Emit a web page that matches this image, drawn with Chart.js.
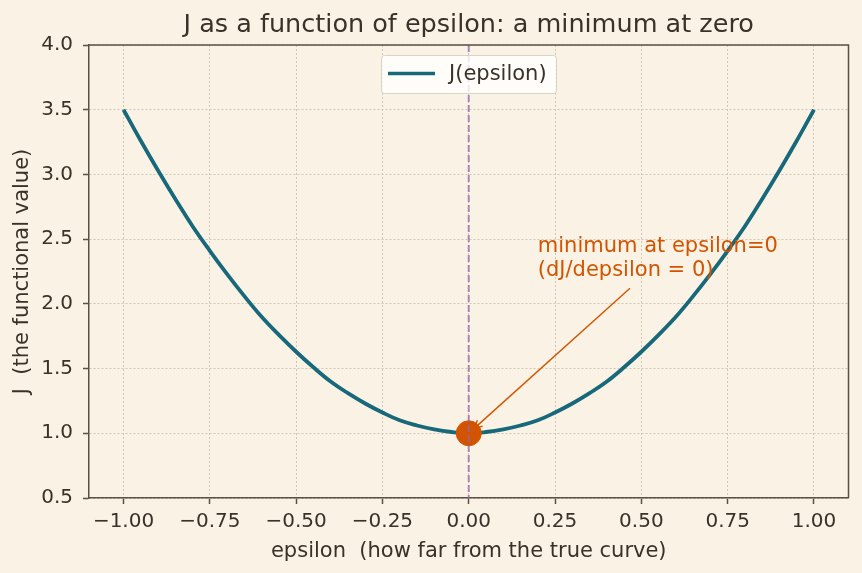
<!DOCTYPE html>
<html>
<head>
<meta charset="utf-8">
<script src="https://cdn.jsdelivr.net/npm/chart.js@4/dist/chart.umd.min.js"></script>
<style>
  html, body { margin: 0; padding: 0; background: #faf2e4; }
  #wrap { width: 862px; height: 573px; }
</style>
</head>
<body>
<div id="wrap"><canvas id="jChart" width="862" height="573"></canvas></div>
<script>
// values
var epsilon = [-1.00, -0.95, -0.90, -0.85, -0.80, -0.75, -0.70, -0.65, -0.60, -0.55,
               -0.50, -0.45, -0.40, -0.35, -0.30, -0.25, -0.20, -0.15, -0.10, -0.05,
               0.00, 0.05, 0.10, 0.15, 0.20, 0.25, 0.30, 0.35, 0.40, 0.45,
               0.50, 0.55, 0.60, 0.65, 0.70, 0.75, 0.80, 0.85, 0.90, 0.95, 1.00];
var jValues = [3.50, 3.26, 3.03, 2.81, 2.60, 2.41, 2.23, 2.06, 1.90, 1.76,
               1.63, 1.51, 1.40, 1.31, 1.23, 1.16, 1.10, 1.06, 1.03, 1.01,
               1.00, 1.01, 1.03, 1.06, 1.10, 1.16, 1.23, 1.31, 1.40, 1.51,
               1.63, 1.76, 1.90, 2.06, 2.23, 2.41, 2.60, 2.81, 3.03, 3.26, 3.50];
var xTicks = [-1.0, -0.75, -0.5, -0.25, 0.0, 0.25, 0.5, 0.75, 1.0];
var yTicks = [0.5, 1.0, 1.5, 2.0, 2.5, 3.0, 3.5, 4.0];
var minPoint = { x: 0.0, y: 1.0 };
var noteText = ["minimum at epsilon=0", "(dJ/depsilon = 0)"];
var notePos = { x: 0.2, y: 2.2 };
var arrowStart = { x: 0.467, y: 2.12 };

var FONT = "'DejaVu Sans', sans-serif";
var INK = '#3a3129';
var TEAL = '#17687a';
var ORANGE = '#d35400';

function minus(v, d) {
  return v.toFixed(d).replace('-', '\u2212');
}

var extras = {
  id: 'extras',
  afterDatasetsDraw: function(chart) {
    var ctx = chart.ctx, a = chart.chartArea, xs = chart.scales.x;
    var x0 = xs.getPixelForValue(0);
    ctx.save();
    ctx.strokeStyle = 'rgba(145,100,175,0.75)';
    ctx.lineWidth = 2;
    ctx.setLineDash([7, 3]);
    ctx.beginPath();
    ctx.moveTo(x0, a.top);
    ctx.lineTo(x0, a.bottom);
    ctx.stroke();
    ctx.restore();
  },
  afterDraw: function(chart) {
    var ctx = chart.ctx, a = chart.chartArea, xs = chart.scales.x, ys = chart.scales.y;
    ctx.save();
    // top and right spines
    ctx.strokeStyle = '#5b5044';
    ctx.lineWidth = 1.5;
    ctx.beginPath();
    ctx.moveTo(a.left, a.top);
    ctx.lineTo(a.right, a.top);
    ctx.lineTo(a.right, a.bottom);
    ctx.stroke();

    // title
    ctx.fillStyle = INK;
    ctx.font = '25.5px ' + FONT;
    ctx.textAlign = 'center';
    ctx.textBaseline = 'middle';
    ctx.fillText('J as a function of epsilon: a minimum at zero', (a.left + a.right) / 2, 25);

    // annotation
    var tx = xs.getPixelForValue(notePos.x), ty = ys.getPixelForValue(notePos.y);
    ctx.fillStyle = ORANGE;
    ctx.font = '21px ' + FONT;
    ctx.textAlign = 'left';
    ctx.textBaseline = 'alphabetic';
    ctx.fillText(noteText[0], tx, ty - 26);
    ctx.fillText(noteText[1], tx, ty - 2);
    var sx = xs.getPixelForValue(arrowStart.x), sy = ys.getPixelForValue(arrowStart.y);
    var ex = xs.getPixelForValue(minPoint.x), ey = ys.getPixelForValue(minPoint.y);
    var ang = Math.atan2(ey - sy, ex - sx);
    ex -= Math.cos(ang) * 7; ey -= Math.sin(ang) * 7;
    ctx.strokeStyle = ORANGE;
    ctx.lineWidth = 1.4;
    ctx.beginPath();
    ctx.moveTo(sx, sy);
    ctx.lineTo(ex, ey);
    ctx.stroke();
    ctx.beginPath();
    ctx.moveTo(ex - Math.cos(ang - 0.45) * 9, ey - Math.sin(ang - 0.45) * 9);
    ctx.lineTo(ex, ey);
    ctx.lineTo(ex - Math.cos(ang + 0.45) * 9, ey - Math.sin(ang + 0.45) * 9);
    ctx.stroke();

    // legend box
    var lx = 381, ly = 55, lw = 175, lh = 38;
    ctx.fillStyle = 'rgba(255,255,255,0.8)';
    ctx.strokeStyle = '#d9d2c6';
    ctx.lineWidth = 1;
    ctx.beginPath();
    ctx.roundRect(lx + 0.5, ly + 0.5, lw, lh, 3);
    ctx.fill();
    ctx.stroke();
    ctx.strokeStyle = TEAL;
    ctx.lineWidth = 3.5;
    ctx.beginPath();
    ctx.moveTo(388, ly + 18.5);
    ctx.lineTo(435, ly + 18.5);
    ctx.stroke();
    ctx.fillStyle = INK;
    ctx.font = '21px ' + FONT;
    ctx.textBaseline = 'middle';
    ctx.fillText('J(epsilon)', 449, ly + 19.5);
    ctx.restore();
  }
};

new Chart(document.getElementById('jChart'), {
  type: 'scatter',
  data: {
    datasets: [
      {
        label: 'minimum',
        data: [minPoint],
        backgroundColor: ORANGE,
        borderColor: ORANGE,
        pointRadius: 12.5,
        pointHoverRadius: 12.5,
        order: 0
      },
      {
        label: 'J(epsilon)',
        type: 'line',
        data: epsilon.map(function(e, i) { return { x: e, y: jValues[i] }; }),
        borderColor: TEAL,
        borderWidth: 3.8,
        pointRadius: 0,
        fill: false,
        tension: 0.4,
        order: 1
      }
    ]
  },
  plugins: [extras],
  options: {
    responsive: false,
    animation: false,
    events: [],
    layout: { padding: { left: 0, right: 13, top: 45, bottom: 0 } },
    plugins: {
      legend: { display: false },
      title: { display: false },
      tooltip: { enabled: false }
    },
    scales: {
      x: {
        type: 'linear',
        min: -1.1,
        max: 1.1,
        afterBuildTicks: function(s) { s.ticks = xTicks.map(function(v) { return { value: v }; }); },
        afterFit: function(s) { s.height = 75; },
        ticks: {
          color: INK,
          font: { family: FONT, size: 20 },
          padding: 6,
          maxRotation: 0,
          autoSkip: false,
          callback: function(v) { return minus(v, 2); }
        },
        grid: { color: '#cfc6b6', lineWidth: 1, tickColor: '#5b5044', tickLength: 6, tickWidth: 1.5 },
        border: { color: '#5b5044', width: 1.5, dash: [2, 2] },
        title: {
          display: true,
          text: 'epsilon  (how far from the true curve)',
          color: INK,
          font: { family: FONT, size: 21 },
          padding: { top: 0, bottom: 9 }
        }
      },
      y: {
        type: 'linear',
        min: 0.5,
        max: 4.0,
        afterBuildTicks: function(s) { s.ticks = yTicks.map(function(v) { return { value: v }; }); },
        afterFit: function(s) { s.width = 89; },
        ticks: {
          color: INK,
          font: { family: FONT, size: 20 },
          padding: 10,
          autoSkip: false,
          callback: function(v) { return v.toFixed(1); }
        },
        grid: { color: '#cfc6b6', lineWidth: 1, tickColor: '#5b5044', tickLength: 6, tickWidth: 1.5 },
        border: { color: '#5b5044', width: 1.5, dash: [2, 2] },
        title: {
          display: true,
          text: 'J  (the functional value)',
          color: INK,
          font: { family: FONT, size: 21 },
          padding: { top: 10, bottom: 0 }
        }
      }
    }
  }
});
</script>
</body>
</html>
